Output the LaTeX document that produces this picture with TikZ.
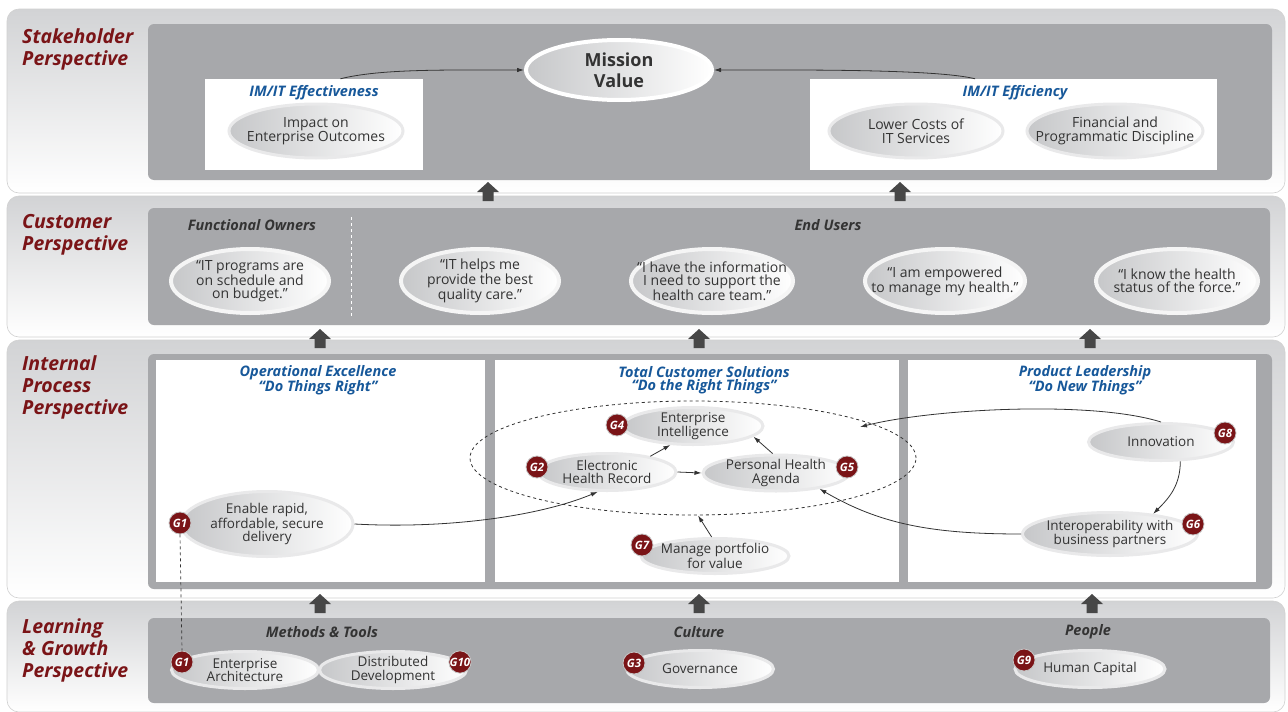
\documentclass[tikz,border=0pt]{standalone}
\usepackage{fontspec}
\setmainfont{Open Sans}
\usetikzlibrary{arrows.meta,shapes.geometric}
\definecolor{BandGray}{HTML}{D2D3D5}
\definecolor{PanelGray}{HTML}{A7A8AB}
\definecolor{PerspRed}{HTML}{7A1417}
\definecolor{ThemeBlue}{HTML}{17589A}
\definecolor{InkGray}{HTML}{333333}
\definecolor{ArrowGray}{HTML}{474747}
\definecolor{GoalLeft}{HTML}{C6C7C9}
\definecolor{GoalRim}{HTML}{E9E9EA}

\begin{document}
\begin{tikzpicture}[x=1pt,y=-1pt,>={Latex[length=7pt,width=4.5pt]},
  band/.style={rounded corners=12pt,top color=BandGray,bottom color=white,draw=white!82!black,line width=0.6pt},
  panel/.style={rounded corners=6pt,fill=PanelGray},
  persp/.style={font=\fontsize{19.5}{22}\selectfont\bfseries\itshape,text=PerspRed,align=left,anchor=north west,inner sep=0pt},
  theme/.style={font=\fontsize{14.5}{13.5}\selectfont\bfseries\itshape,text=ThemeBlue,align=center,inner sep=0pt},
  group/.style={font=\fontsize{14.5}{14}\selectfont\bfseries\itshape,text=InkGray,inner sep=0pt},
  goal/.style={ellipse,inner xsep=-30pt,inner ysep=-10pt,left color=GoalLeft,right color=white,draw=GoalRim,line width=3pt,text=InkGray,align=center,font=\fontsize{14}{14.5}\selectfont},
  quote/.style={goal,draw=white!96!black,line width=4pt,font=\fontsize{14}{13.5}\selectfont},
  step goal/.style={goal,font=\fontsize{13.5}{13.5}\selectfont},
  badge/.style={circle,fill=PerspRed,draw=white!78!black,line width=0.8pt,text=white,inner sep=0pt,minimum size=22pt,font=\fontsize{11.5}{12}\selectfont\bfseries\itshape},
  link/.style={->,InkGray,line width=0.8pt},
  liftarrow/.pic={\fill[ArrowGray] (-5.5,0) -- (-5.5,-9) -- (-11,-9) -- (0,-19) -- (11,-9) -- (5.5,-9) -- (5.5,0) -- cycle;}
]

\useasboundingbox (0,0) rectangle (1288,712);
\fill[white] (0,0) rectangle (1288,712);

% ---- BANDS AND PANELS ----
\draw[band] (7,9) rectangle (1285,193);
\draw[band] (7,196) rectangle (1285,337);
\draw[band] (7,340) rectangle (1285,598);
\draw[band] (7,601) rectangle (1285,712);

\fill[panel] (148,24) rectangle (1272,180);
\fill[panel] (148,208) rectangle (1270,325);
\fill[panel] (148,354) rectangle (1272,589);
\fill[panel] (148,618) rectangle (1270,703);

% white boxes of the internal process row
\fill[white] (156,360) rectangle (485,582);
\fill[white] (495,360) rectangle (899,582);
\fill[white] (908,360) rectangle (1256,582);

% Perspective labels
\node[persp] (stakeholder) at (22,28) {Stakeholder\\Perspective};
\node[persp] (customer) at (22,214) {Customer\\Perspective};
\node[persp] (internal) at (22,355) {Internal\\Process\\Perspective};
\node[persp] (learning) at (22,618) {Learning\\\& Growth\\Perspective};

% Block arrows between rows
\foreach \ax/\ay in {488/201, 900/201, 320/348, 699/348, 1090/348, 320/613, 699/613, 1092/613}
  \pic at (\ax,\ay) {liftarrow};

% ---- STAKEHOLDER ----
\node[fill=white,minimum width=218pt,minimum height=91pt] (effbox) at (314,124.5) {};
\node[fill=white,minimum width=407pt,minimum height=91pt] (finbox) at (1013.5,124.5) {};
\node[theme] (efftitle) at (314,93) {IM/IT Effectiveness};
\node[theme] (fintitle) at (1015,93) {IM/IT Efficiency};

\node[goal,draw=white,line width=4pt,minimum width=186pt,minimum height=60pt,
      font=\fontsize{18}{21}\selectfont\bfseries] (mission) at (619,70) {Mission\\Value};

\node[goal,minimum width=174pt,minimum height=54pt] (impact) at (316,131) {Impact on\\Enterprise Outcomes};
\node[goal,minimum width=174pt,minimum height=54pt] (lowcost) at (916,131) {Lower Costs of\\IT Services};
\node[goal,minimum width=176pt,minimum height=54pt] (discipline) at (1115,131) {Financial and\\Programmatic Discipline};

\draw[link] (effbox.60) .. controls +(40,-10) and +(-80,0) .. (mission.west);
\draw[link] (finbox.130) .. controls +(-40,-10) and +(80,0) .. (mission.east);

% ---- CUSTOMER ----
\node[group] (owners) at (252,225) {Functional Owners};
\node[group] (endusers) at (828,225) {End Users};
\draw[white,dashed,line width=1pt] (351,217) -- (351,318);

\node[quote,minimum width=158pt,minimum height=64pt] (q1) at (250,281) {“IT programs are\\on schedule and\\on budget.”};
\node[quote,minimum width=158pt,minimum height=64pt] (q2) at (480,281) {“IT helps me\\provide the best\\quality care.”};
\node[quote,minimum width=162pt,minimum height=64pt] (q3) at (712,281) {“I have the information\\I need to support the\\health care team.”};
\node[quote,minimum width=160pt,minimum height=64pt] (q4) at (945,281) {“I am empowered\\to manage my health.”};
\node[quote,minimum width=162pt,minimum height=64pt] (q5) at (1177,281) {“I know the health\\status of the force.”};

% ---- INTERNAL PROCESS ----
\node[theme] (opex) at (318,380) {Operational Excellence\\“Do Things Right”};
\node[theme] (custsol) at (704,380) {Total Customer Solutions\\“Do the Right Things”};
\node[theme] (prodlead) at (1085,380) {Product Leadership\\“Do New Things”};

\node[ellipse,draw=InkGray,dashed,line width=0.8pt,minimum width=446pt,minimum height=114pt] (tcs) at (693,458) {};
\coordinate (tcsin) at (860,427);

\node[step goal,minimum width=172pt,minimum height=65pt] (g1) at (267,524) {Enable rapid,\\affordable, secure\\delivery};
\node[step goal,minimum width=140pt,minimum height=37pt] (g4) at (693,426) {Enterprise\\Intelligence};
\node[step goal,minimum width=138pt,minimum height=37pt] (g2) at (607,472) {Electronic\\Health Record};
\node[step goal,minimum width=146pt,minimum height=36pt] (g5) at (776,473) {Personal Health\\Agenda};
\node[step goal,minimum width=148pt,minimum height=35pt] (g7) at (715,556) {Manage portfolio\\for value};
\node[step goal,minimum width=145pt,minimum height=37pt] (g8) at (1161,442) {Innovation};
\node[step goal,minimum width=175pt,minimum height=43pt] (g6) at (1110,534) {Interoperability with\\business partners};

\draw[link] (g1.east) .. controls +(90,5) and +(-60,25) .. (g2.-115);
\draw[link] (g2.20) -- (g4.-140);
\draw[link] (g2.east) -- (g5.west);
\draw[link] (g5.100) -- (g4.-10);
\draw[link] (g7.100) -- (tcs.-85);
\draw[link] (g8.north) .. controls +(-70,-22) and +(70,-18) .. (tcsin);
\draw[link] (g8.-45) .. controls +(0,25) and +(15,-15) .. (g6.25);
\draw[link] (g6.west) .. controls +(-90,0) and +(60,35) .. (g5.-20);

% ---- LEARNING & GROWTH ----
\node[group] (methods) at (322,632) {Methods \& Tools};
\node[group] (culture) at (699,632) {Culture};
\node[group] (people) at (1088,632) {People};

\node[step goal,minimum width=147pt,minimum height=37pt] (entarch) at (245,670) {Enterprise\\Architecture};
\node[step goal,minimum width=147pt,minimum height=37pt] (distdev) at (393,670) {Distributed\\Development};
\node[step goal,minimum width=147pt,minimum height=37pt] (govern) at (700,669) {Governance};
\node[step goal,minimum width=150pt,minimum height=37pt] (humcap) at (1090,669) {Human Capital};

% Goal badges
\foreach \bn/\bx/\by/\bt in {b1/180/523/G1, b4/617/425/G4, b2/537/467/G2, b5/847/467/G5,
    b7/642/545/G7, b8/1225/433/G8, b6/1193/524/G6, lb1/182/662/G1, b10/460/662/G10,
    b3/634/663/G3, b9/1024/660/G9}
  \node[badge] (\bn) at (\bx,\by) {\bt};

\draw[InkGray,dashed,line width=0.7pt] (b1.south) -- (lb1.north);

\end{tikzpicture}
\end{document}
